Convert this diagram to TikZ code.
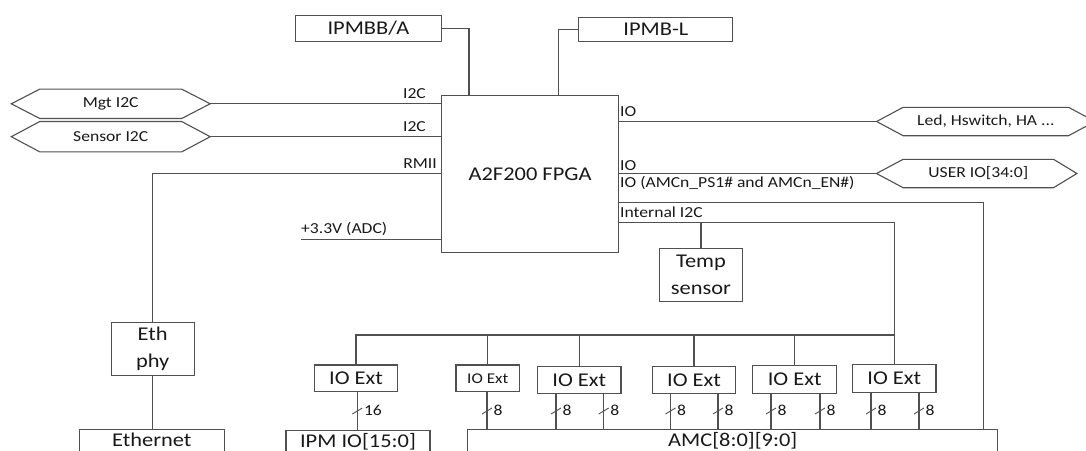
\documentclass[tikz,border=0pt]{standalone}
\usepackage{fontspec}
\setmainfont{Carlito}[FakeStretch=1.15]
\usetikzlibrary{calc}
\definecolor{ln}{RGB}{80,80,80}
\definecolor{tx}{RGB}{25,25,25}
\newcommand\fntbig{\fontsize{19.5}{27}\selectfont}
\newcommand\fntsml{\fontsize{15.3}{18}\selectfont}
\newcommand\fnttiny{\fontsize{14.9}{18}\selectfont}
% hexagon: name, cx, cy, core width, height, left indent, right indent, text
\newcommand\hexnode[8]{%
  \node[hexcore, minimum width=#4, minimum height=#5] (#1) at (#2,#3) {#8};
  \draw[wire] (#1.north west) -- (#1.north east) -- ($(#1.east)+(#7,0)$) coordinate (#1-r)
     -- (#1.south east) -- (#1.south west) -- ($(#1.west)+(-#6,0)$) coordinate (#1-l) -- cycle;}
% bus line: from node, to node, x, label, label name
\newcommand\busline[5]{%
  \draw[wire] (#1.south -| #3,0) -- (#2.north -| #3,0);
  \draw[slash] (#3-5,414) -- (#3+5,408);
  \node[lbl, anchor=base west] (#5) at (#3+6.5,415) {#4};}
\begin{document}
\begin{tikzpicture}[x=1pt,y=-1pt,
  box/.style={draw=ln, line width=1.1pt, inner sep=0pt, font=\fntbig, align=center, text=tx},
  wire/.style={draw=ln, line width=1.1pt},
  lbl/.style={inner sep=0pt, font=\fntsml, text=tx},
  hexcore/.style={inner sep=0pt, font=\fntsml, text=tx},
  slash/.style={draw=ln, line width=0.9pt}]
\useasboundingbox (0,0) rectangle (1086,450);
\clip (0,0) rectangle (1086,450);

% FPGA
\node[box, anchor=north west, minimum width=177.6, minimum height=157.3] (fpga) at (440.7,95) {A2F200 FPGA};

% top boxes
\node[box, anchor=north west, minimum width=145.7, minimum height=26] (ipmbb) at (295,15) {IPMBB/A};
\node[box, anchor=north west, minimum width=154, minimum height=24.3] (ipmbl) at (578.3,16.7) {IPMB-L};
\coordinate (fA) at (469,95);
\coordinate (fB) at (558.3,95);
\draw[wire] (ipmbb.east) -| (fA);
\draw[wire] (ipmbl.west) -| (fB);

% left hexagons
\hexnode{mgt}{110.75}{103.8}{141.5}{29}{28.5}{28.5}{Mgt I2C}
\hexnode{sens}{110.75}{136.7}{141.5}{30}{28.5}{28.5}{Sensor I2C}
\draw[wire] (mgt-r) -- (mgt-r -| fpga.west);
\draw[wire] (sens-r) -- (sens-r -| fpga.west);
\node[lbl, anchor=base east] (li1) at (426,98) {I2C};
\node[lbl, anchor=base east] (li2) at (426,131.5) {I2C};
\node[lbl, anchor=base east] (lrmii) at (437,168) {RMII};

% Ethernet path
\node[box, minimum width=83.3, minimum height=53] (eth) at (152.7,349.2) {Eth\\phy};
\node[box, anchor=north, minimum width=145, text height=12.5, text depth=3.5, inner ysep=4.5] (ethernet) at (151.8,429) {Ethernet};
\coordinate (fR) at (440.7,173.3);
\draw[wire] (fR) -| (eth.north);
\draw[wire] (eth.south) -- (eth.south |- ethernet.north);

% +3.3V
\coordinate (v0) at (301,239.3);
\draw[wire] (v0) -- (v0 -| fpga.west);
\node[lbl, anchor=base west] (lv) at (301,233) {+3.3V (ADC)};

% right hexagons
\hexnode{led}{985.8}{121.5}{165}{28}{26.5}{26.5}{Led, Hswitch, HA ...}
\hexnode{user}{978.3}{173.5}{150}{28}{26.6}{23.4}{USER IO[34:0]}
\node[lbl, anchor=base west] (lio1) at (620,116.5) {IO};
\draw[wire] (led-l -| fpga.east) -- (led-l);
\node[lbl, anchor=base west] (lio2) at (620,170.5) {IO};
\draw[wire] (user-l -| fpga.east) -- (user-l);
\node[lbl, anchor=base west] (lamc) at (620,187.5) {IO (AMCn\_PS1\# and AMCn\_EN\#)};
\node[lbl, anchor=base west] (lint) at (620,217.5) {Internal I2C};

% temp sensor
\node[box, minimum width=83.4, minimum height=53.4] (temp) at (701,275) {Temp\\sensor};

% IO extenders
\node[box, minimum width=83.4, minimum height=26.7] (ioe1) at (356,378.3) {IO Ext};
\node[box, font=\fnttiny, minimum width=63.7, minimum height=26.7] (ioe2) at (487.8,378.3) {IO Ext};
\node[box, minimum width=83.3, minimum height=26.7] (ioe3) at (579.3,380) {IO Ext};
\node[box, minimum width=83.4, minimum height=26.7] (ioe4) at (694,380) {IO Ext};
\node[box, minimum width=84, minimum height=28.3] (ioe5) at (794.7,379.2) {IO Ext};
\node[box, minimum width=83.3, minimum height=28.3] (ioe6) at (894.3,378.2) {IO Ext};

% bottom boxes
\node[box, anchor=north, minimum width=144, text height=12.5, text depth=3.5, inner ysep=4.5] (ipmio) at (358,429.5) {IPM IO[15:0]};
\node[box, anchor=north, minimum width=530, text height=12.5, text depth=3.5, inner ysep=4.5] (amc) at (732.7,429) {AMC[8:0][9:0]};

% FPGA right connections
\coordinate (fP) at (618.3,202.3);
\draw[wire] (fP) -| (amc.north -| 983.3,0);
\coordinate (fI) at (618.3,222.3);
\draw[wire] (fI) -| (ioe6.north);
\draw[wire] (temp.north) -- (temp.north |- fI);

% internal I2C bus
\coordinate (busR) at (894.3,335);
\draw[wire] (ioe1.north) |- (busR);
\draw[wire] (ioe2.north) -- (ioe2.north |- busR);
\draw[wire] (ioe3.north) -- (ioe3.north |- busR);
\draw[wire] (ioe4.north) -- (ioe4.north |- busR);
\draw[wire] (ioe5.north) -- (ioe5.north |- busR);

% buses to outputs
\busline{ioe1}{ipmio}{357.3}{16}{b1}
\busline{ioe2}{amc}{487}{8}{b2}
\busline{ioe3}{amc}{556}{8}{b3}
\busline{ioe3}{amc}{603.7}{8}{b4}
\busline{ioe4}{amc}{670.5}{8}{b5}
\busline{ioe4}{amc}{718}{8}{b6}
\busline{ioe5}{amc}{771}{8}{b7}
\busline{ioe5}{amc}{820}{8}{b8}
\busline{ioe6}{amc}{871}{8}{b9}
\busline{ioe6}{amc}{919}{8}{b10}
\end{tikzpicture}
\end{document}
